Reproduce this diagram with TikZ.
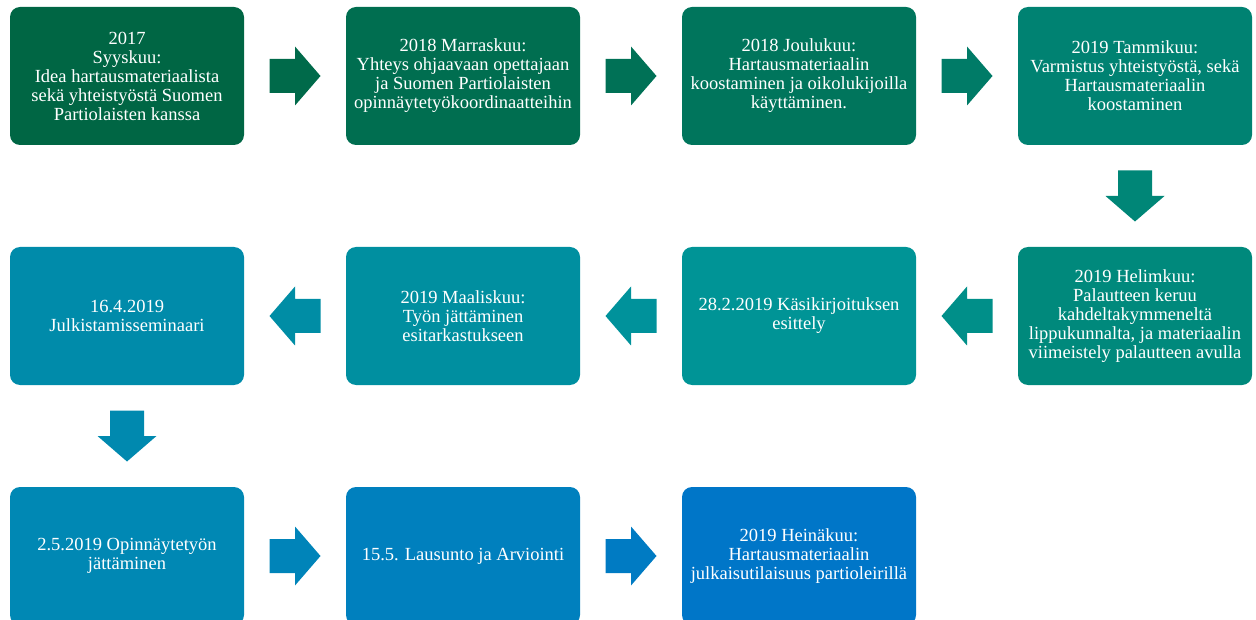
\documentclass[tikz,border=0pt]{standalone}
\usepackage{fontspec}
\setmainfont{Liberation Serif}
\usetikzlibrary{calc}
\definecolor{c1}{RGB}{0,102,68}
\definecolor{c2}{RGB}{0,110,80}
\definecolor{c3}{RGB}{0,117,92}
\definecolor{c4}{RGB}{0,130,114}
\definecolor{c5}{RGB}{0,137,124}
\definecolor{c6}{RGB}{0,148,150}
\definecolor{c7}{RGB}{0,143,160}
\definecolor{c8}{RGB}{0,139,170}
\definecolor{c9}{RGB}{0,136,180}
\definecolor{c10}{RGB}{0,128,190}
\definecolor{c11}{RGB}{0,118,200}
\tikzset{
  stagebox/.style={rounded corners=10pt, minimum width=234pt, minimum height=138pt,
    inner sep=0pt, align=center, text=white,
    font=\fontsize{18.5}{19}\selectfont},
}
\newcommand{\rarr}[3]{%
  \path ($(#1.east)!0.5!(#2.west)$) coordinate (m);
  \fill[#3] ([shift={(-25.5,-17)}]m) -- ++(25.5,0) -- ++(0,-12.5) -- ++(25.5,29.5)
     -- ++(-25.5,29.5) -- ++(0,-12.5) -- ++(-25.5,0) -- cycle;}
\newcommand{\larr}[3]{%
  \path ($(#1.west)!0.5!(#2.east)$) coordinate (m);
  \fill[#3] ([shift={(25.5,-17)}]m) -- ++(-25.5,0) -- ++(0,-12.5) -- ++(-25.5,29.5)
     -- ++(25.5,29.5) -- ++(0,-12.5) -- ++(25.5,0) -- cycle;}
\newcommand{\darr}[3]{%
  \path ($(#1.south)!0.5!(#2.north)$) coordinate (m);
  \fill[#3] ([shift={(-17,-25.5)}]m) -- ++(34,0) -- ++(0,25.5) -- ++(12.5,0)
     -- ++(-29.5,25.5) -- ++(-29.5,-25.5) -- ++(12.5,0) -- cycle;}
\begin{document}
\begin{tikzpicture}[x=1pt,y=-1pt]
\useasboundingbox (0,0) rectangle (1256,620);
\clip (0,0) rectangle (1256,620);
\node[stagebox, fill=c1] (b1) at (127,76) {2017\\Syyskuu:\\Idea hartausmateriaalista\\sekä yhteistyöstä Suomen\\Partiolaisten kanssa};
\node[stagebox, fill=c2] (b2) at (463,76) {2018 Marraskuu:\\Yhteys ohjaavaan opettajaan\\ja Suomen Partiolaisten\\opinnäytetyökoordinaatteihin};
\node[stagebox, fill=c3] (b3) at (799,76) {2018 Joulukuu:\\Hartausmateriaalin\\koostaminen ja oikolukijoilla\\käyttäminen.};
\node[stagebox, fill=c4] (b4) at (1135,76) {2019 Tammikuu:\\Varmistus yhteistyöstä, sekä\\Hartausmateriaalin\\koostaminen};
\node[stagebox, fill=c5] (b5) at (1135,316) {2019 Helimkuu:\\Palautteen keruu\\kahdeltakymmeneltä\\lippukunnalta, ja materiaalin\\viimeistely palautteen avulla};
\node[stagebox, fill=c6] (b6) at (799,316) {28.2.2019 Käsikirjoituksen\\esittely};
\node[stagebox, fill=c7] (b7) at (463,316) {2019 Maaliskuu:\\Työn jättäminen\\esitarkastukseen};
\node[stagebox, fill=c8] (b8) at (127,316) {16.4.2019\\Julkistamisseminaari};
\node[stagebox, fill=c9] (b9) at (127,556) {2.5.2019 Opinnäytetyön\\jättäminen};
\node[stagebox, fill=c10] (b10) at (463,556) {15.5. Lausunto ja Arviointi};
\node[stagebox, fill=c11] (b11) at (799,556) {2019 Heinäkuu:\\Hartausmateriaalin\\julkaisutilaisuus partioleirillä};
\rarr{b1}{b2}{c1!50!c2}
\rarr{b2}{b3}{c2!50!c3}
\rarr{b3}{b4}{c3!50!c4}
\darr{b4}{b5}{c4!50!c5}
\larr{b5}{b6}{c5!50!c6}
\larr{b6}{b7}{c6!50!c7}
\larr{b7}{b8}{c7!50!c8}
\darr{b8}{b9}{c8!50!c9}
\rarr{b9}{b10}{c9!50!c10}
\rarr{b10}{b11}{c10!50!c11}
\end{tikzpicture}
\end{document}
